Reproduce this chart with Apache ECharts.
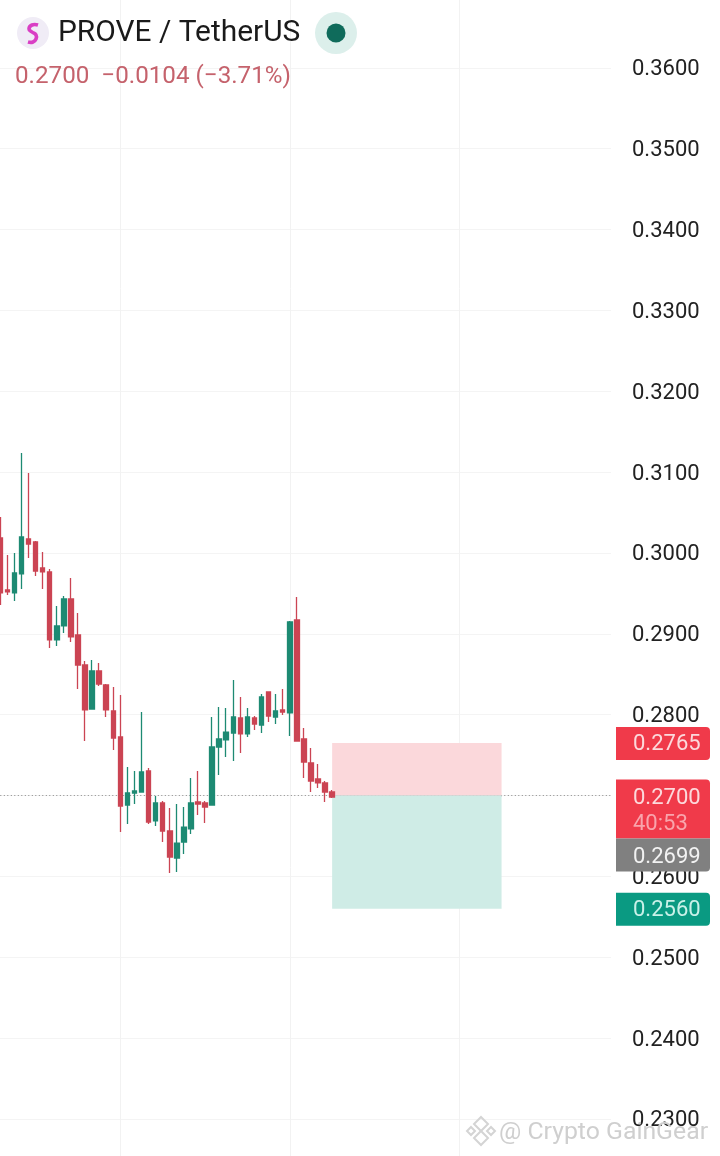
<!DOCTYPE html>
<html>
<head>
<meta charset="utf-8">
<style>html,body{margin:0;padding:0;background:#fff}#c{width:720px;height:1156px}</style>
<script src="https://cdn.jsdelivr.net/npm/echarts@6/dist/echarts.min.js"></script>
</head>
<body>
<div id="c"></div>
<script>
const opens = [.30185,.29542,.29505,.29740,.30173,.30136,.29814,.29765,.28924,.29097,.29431,.28985,.28614,.28070,.28540,.28367,.28045,.27724,.26882,.27031,.27043,.27303,.26685,.26907,.26561,.26227,.26425,.26586,.26920,.26907,.26882,.27600,.27687,.27773,.27959,.27761,.27959,.27872,.28280,.27971,.28058,.28021,.29171,.27699,.27402,.27204,.27155,.27043];
const closes = [.29505,.29518,.29752,.30197,.30111,.29777,.29765,.28924,.29097,.29431,.28961,.28614,.28058,.28540,.28379,.28058,.27711,.26870,.27031,.27056,.27291,.26672,.26907,.26561,.26239,.26412,.26610,.26907,.26895,.26858,.27600,.27699,.27785,.27971,.27761,.27971,.27884,.28218,.27983,.28045,.28033,.29146,.27674,.27414,.27179,.27155,.27043,.26981];
const lows = [.29356,.29480,.29406,.29554,.29938,.29715,.29554,.28825,.28849,.29010,.28899,.28317,.27674,.28070,.28355,.27971,.27563,.26549,.26647,.26895,.27043,.26647,.26623,.26425,.26041,.26054,.26276,.26524,.26759,.26660,.26882,.27254,.27476,.27427,.27526,.27724,.27810,.27773,.27909,.27884,.27996,.27736,.27674,.27216,.27043,.27093,.26920,.26969];
const highs = [.30445,.29975,.30000,.31236,.30989,.30148,.30012,.29802,.29344,.29468,.29690,.29257,.28664,.28676,.28639,.28379,.28342,.28243,.27353,.27303,.28033,.27340,.26994,.26932,.26845,.26895,.26858,.27216,.27303,.26932,.27971,.28095,.28082,.28429,.28218,.28082,.27983,.28256,.28280,.28256,.28317,.29159,.29455,.27835,.27588,.27390,.27179,.27068];
const slotCount = 87;
const slots = Array.from({length: slotCount}, (_, i) => String(i));
const gridSlots = ['17', '41', '65'];
const lastPrice = 0.27, stopPrice = 0.2765, targetPrice = 0.256;
const boxStart = '47', boxEnd = '71';
const titleText = 'PROVE / TetherUS';
const quoteText = '0.2700  \u22120.0104 (\u22123.71%)';

const RED = '#cb4453', GREEN = '#1d8a73';
const candles = opens.map((o, i) => [o, closes[i], lows[i], highs[i]]);
const chart = echarts.init(document.getElementById('c'), null, {renderer: 'canvas'});
const FONT = 'Roboto';

chart.setOption({
  animation: false,
  backgroundColor: '#ffffff',
  textStyle: {fontFamily: FONT},
  grid: {left: -3.2, width: 614.2, top: -13, height: 1212.75, containLabel: false, outerBoundsMode: 'none'},
  xAxis: {
    type: 'category', data: slots, boundaryGap: true,
    axisLine: {show: false}, axisTick: {show: false}, axisLabel: {show: false},
    splitLine: {show: false}
  },
  yAxis: {
    type: 'value', position: 'right', min: 0.22, max: 0.37, interval: 0.01, scale: true,
    axisLine: {show: false}, axisTick: {show: false},
    axisLabel: {margin: 21, fontSize: 22, color: '#222', fontFamily: FONT, verticalAlign: 'top', padding: [-9, 0, 0, 0],
      formatter: v => v.toFixed(4)},
    splitLine: {show: true, lineStyle: {color: '#f4f4f4', width: 1}}
  },
  series: [{
    type: 'candlestick',
    data: candles,
    barWidth: 5,
    z: 5,
    itemStyle: {color: GREEN, color0: RED, borderColor: GREEN, borderColor0: RED, borderWidth: 1.3},
    markLine: {
      silent: true, symbol: 'none', label: {show: false}, animation: false, z: 1,
      data: [
        ...gridSlots.map(s => ({xAxis: s, lineStyle: {color: '#f2f2f2', width: 1, type: 'solid'}})),
        {yAxis: lastPrice, lineStyle: {color: '#8a8a8a', width: 1, type: [1, 2.5]}},
        [{coord: [boxStart, lastPrice], lineStyle: {color: '#a3a3a3', width: 1.5, type: 'solid'}}, {coord: [boxEnd, lastPrice]}]
      ]
    },
    markArea: {
      silent: true, animation: false, z: 2,
      data: [
        [{xAxis: boxStart, yAxis: stopPrice, itemStyle: {color: '#fbd8db'}}, {xAxis: boxEnd, yAxis: lastPrice}],
        [{xAxis: boxStart, yAxis: lastPrice, itemStyle: {color: '#cfece6'}}, {xAxis: boxEnd, yAxis: targetPrice}]
      ]
    }
  }]
});

const py = v => chart.convertToPixel({yAxisIndex: 0}, v);
const label = (x, y, text, fill, size) => ({x, y, text, fill, font: size + 'px ' + FONT, align: 'left', verticalAlign: 'middle'});
function tag(top, h, fill, radius, lines) {
  const els = [{type: 'rect', z: 50, shape: {x: 616, y: top, width: 94, height: h, r: radius}, style: {fill}}];
  lines.forEach(l => els.push({type: 'text', z: 51, style: label(633, l.y, l.t, l.c, 22)}));
  return els;
}
const yStop = py(stopPrice), yLast = py(lastPrice), yTarget = py(targetPrice);
const lastBottom = yLast + 43;
const poly = pts => ({type: 'polygon', z: 1, shape: {points: pts}, style: {fill: 'none', stroke: '#d4d4d4', lineWidth: 2}});
chart.setOption({
  graphic: [
    {type: 'text', z: 1, style: label(499, 1133, '@ Crypto GainGear', '#cfcfcf', 24.8)},
    poly([[481,1117],[488,1124],[481,1131],[474,1124]]),
    poly([[481,1131],[488,1138],[481,1145],[474,1138]]),
    poly([[471,1127],[475,1131],[471,1135],[467,1131]]),
    poly([[491,1127],[495,1131],[491,1135],[487,1131]]),

    {type: 'circle', z: 40, shape: {cx: 33, cy: 33, r: 16}, style: {fill: '#f0ecf6'}},
    {type: 'polyline', z: 41, shape: {smooth: 0.5, points: [[38,25],[32,25],[29,29],[32,32],[36,35],[36,39],[33,42],[28,42]]},
      style: {fill: 'none', stroke: '#d93fc4', lineWidth: 3.6}},
    {type: 'text', z: 41, style: label(58, 34, titleText, '#1a1a1a', 29.9)},
    {type: 'circle', z: 40, shape: {cx: 336, cy: 33, r: 21}, style: {fill: '#dcefeb'}},
    {type: 'circle', z: 41, shape: {cx: 336, cy: 33, r: 9.5}, style: {fill: '#0f6b5b'}},
    {type: 'text', z: 41, style: label(15, 77, quoteText, '#c5626c', 24.2)},

    ...tag(yStop - 16, 33, '#f03a4a', [0, 4, 4, 0], [{t: '0.2765', y: yStop + 2, c: '#fcd9dc'}]),
    ...tag(yLast - 16, 59, '#f03a4a', [0, 4, 0, 0], [
      {t: '0.2700', y: yLast + 3, c: '#fcd9dc'},
      {t: '40:53', y: yLast + 29, c: '#f9a4ac'}]),
    ...tag(lastBottom, 33, '#808080', [0, 0, 4, 0], [{t: '0.2699', y: lastBottom + 19, c: '#f2f2f2'}]),
    ...tag(yTarget - 16, 33, '#0a9a82', [0, 4, 4, 0], [{t: '0.2560', y: yTarget + 2, c: '#c9f1e8'}])
  ]
});
</script>
</body>
</html>
